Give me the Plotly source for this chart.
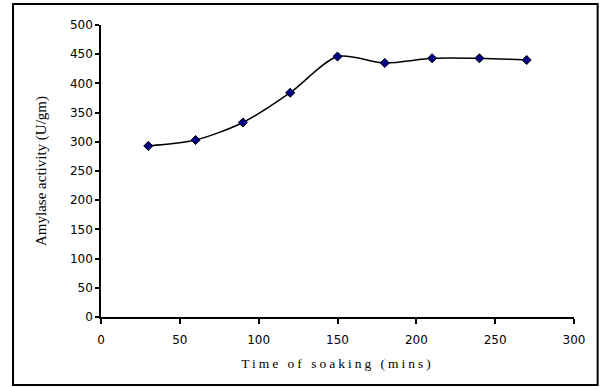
import plotly.graph_objects as go

time_mins = [30, 60, 90, 120, 150, 180, 210, 240, 270]
amylase_activity = [293, 303, 333, 384, 446, 435, 443, 443, 440]

x_ticks = [0, 50, 100, 150, 200, 250, 300]
y_ticks = [0, 50, 100, 150, 200, 250, 300, 350, 400, 450, 500]

tick_font = dict(family="DejaVu Sans", size=12, color="black")
title_font = dict(family="Liberation Serif, Times New Roman", size=15, color="black")

fig = go.Figure()
fig.add_trace(go.Scatter(
    x=time_mins, y=amylase_activity,
    mode="lines+markers",
    line=dict(color="black", width=1.5, shape="spline", smoothing=0.8),
    marker=dict(symbol="diamond", size=7, color="#000080",
                line=dict(color="black", width=1)),
    showlegend=False,
))

fig.update_layout(
    width=602, height=387,
    margin=dict(l=101, r=28, t=25, b=70),
    paper_bgcolor="white", plot_bgcolor="white",
    font=dict(family="DejaVu Sans", size=12, color="black"),
    xaxis=dict(
        range=[0, 300], tickvals=x_ticks, showgrid=False, zeroline=False,
        showline=True, linecolor="black", linewidth=1.5,
        ticks="outside", ticklen=5, tickwidth=1.5, tickcolor="black",
        tickfont=tick_font, ticklabelstandoff=6, automargin=False,
        title=dict(text='<span style="letter-spacing:3px">Time of soaking (mins)</span>',
                   font=dict(family="Liberation Serif, Times New Roman", size=13.5),
                   standoff=12),
    ),
    yaxis=dict(
        range=[0, 500], tickvals=y_ticks, showgrid=False, zeroline=False,
        showline=True, linecolor="black", linewidth=1.5,
        ticks="outside", ticklen=4, tickwidth=1.5, tickcolor="black",
        tickfont=tick_font, automargin=False,
        title=dict(text="Amylase activity (U/gm)", font=title_font, standoff=20),
    ),
    shapes=[dict(type="rect", xref="paper", yref="paper",
                 x0=-0.186, x1=1.050, y0=-0.233, y1=1.072,
                 line=dict(color="black", width=2), fillcolor="rgba(0,0,0,0)",
                 layer="below")],
)

fig.write_html("out.html", config={"displayModeBar": False},
               post_script="document.body.style.margin='0';document.body.style.overflow='hidden';")
